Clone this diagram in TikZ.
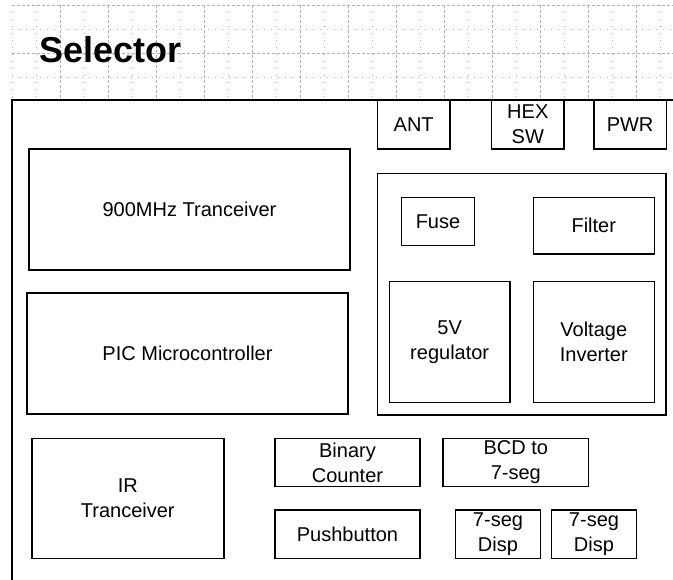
\documentclass[tikz,border=0pt]{standalone}
\usepackage{fontspec}
\setmainfont{Liberation Sans}
\begin{document}
\begin{tikzpicture}[x=1pt, y=-1pt,
  box/.style={draw, line width=1.4pt, inner sep=0pt, align=center,
    font=\fontsize{20}{25}\selectfont},
  gridmajor/.style={black!30, line width=0.8pt, dash pattern=on 3pt off 2pt},
  gridminor/.style={black!30, line width=0.8pt, dash pattern=on 1pt off 6pt},
  frameline/.style={line width=2pt}]
\fill[white] (0,0) rectangle (673,580);
\useasboundingbox (0,0) rectangle (673,580);

% drawing-sheet grid above the enclosure
\foreach \gx in {60,108,...,636} \draw[gridmajor] (\gx,5) -- (\gx,100);
\foreach \gx in {36,84,...,660} \draw[gridminor] (\gx,5) -- (\gx,100);
\draw[gridminor] (12,5) -- (12,100);
\foreach \gy in {5,53} \draw[gridmajor] (12,\gy) -- (673,\gy);
\foreach \gy in {29,77} \draw[gridminor] (12,\gy) -- (673,\gy);

% title
\node[anchor=base west, inner sep=0pt, font=\bfseries\fontsize{36}{40}\selectfont]
  (title) at (39,63) {Selector};

% enclosure outline (runs off the sheet to the right and below)
\coordinate (encR) at (680,100);
\coordinate (encTL) at (12,100);
\coordinate (encB) at (12,590);
\draw[frameline] (encR) -- (encTL) -- (encB);

% left column
\node[box, minimum width=321pt, minimum height=121pt] (rf)  at (189.5,209.5) {900MHz Tranceiver};
\node[box, minimum width=321pt, minimum height=121pt] (pic) at (187.5,353.5) {PIC Microcontroller};
\node[box, minimum width=192pt, minimum height=120pt] (ir)  at (127.8,498.3) {IR\\Tranceiver};

% connectors on the top edge
\node[box, minimum width=72.5pt, minimum height=49pt] (ant) at (413.7,124.5) {ANT};
\node[box, minimum width=72.5pt, minimum height=49pt] (hex) at (527.8,124.5) {HEX\\SW};
\node[box, minimum width=72.5pt, minimum height=49pt] (pwr) at (630.1,124.5) {PWR};

% power supply section
\node[box, minimum width=288.7pt, minimum height=241.7pt] (power) at (521.7,294.2) {};
\node[box, minimum width=72.6pt, minimum height=48.4pt] (fuse)   at (438,221.5) {Fuse};
\node[box, minimum width=121pt,  minimum height=56.7pt] (filter) at (593.8,225.7) {Filter};
\node[box, minimum width=120.7pt, minimum height=120.6pt] (reg)  at (449.7,342) {5V\\regulator};
\node[box, minimum width=121pt,  minimum height=120.6pt] (inv)   at (593.8,342) {Voltage\\Inverter};

% counter and display section
\node[box, minimum width=145pt, minimum height=48.4pt] (bin)  at (347.5,462.5) {Binary\\Counter};
\node[box, minimum width=145.5pt, minimum height=48.4pt] (bcd) at (515.8,462.5) {BCD to\\7-seg};
\node[box, minimum width=145pt, minimum height=48.5pt] (push) at (347.5,534.2) {Pushbutton};
\node[box, minimum width=85pt, minimum height=48.5pt] (dispa) at (498,534.2) {7-seg\\Disp};
\node[box, minimum width=85pt, minimum height=48.5pt] (dispb) at (594,534.2) {7-seg\\Disp};
\end{tikzpicture}
\end{document}
